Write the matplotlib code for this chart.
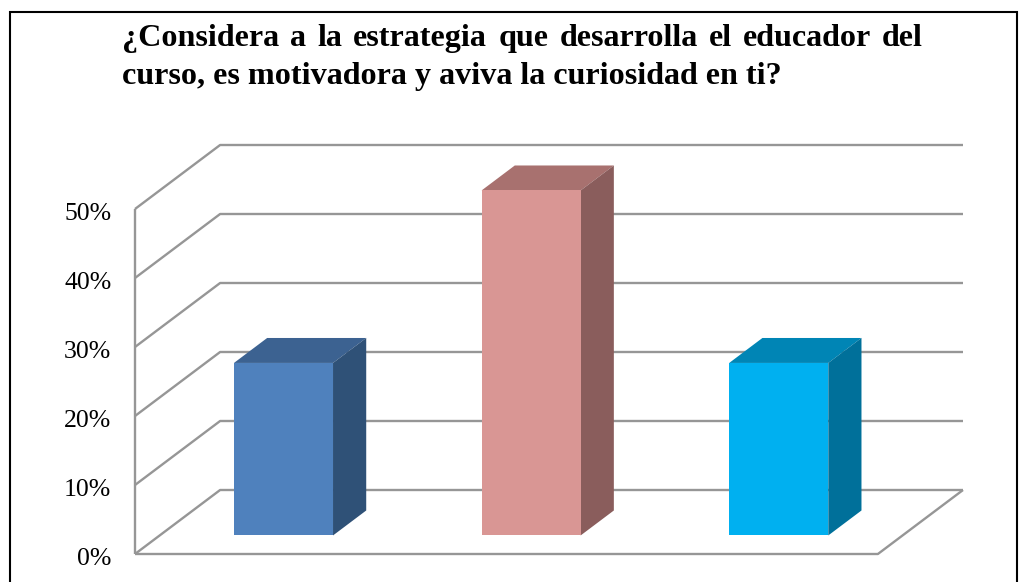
import matplotlib
matplotlib.use('Agg')
from matplotlib import pyplot as plt
from matplotlib.patches import Polygon, Rectangle
from matplotlib.transforms import ScaledTranslation

title_lines = ['¿Considera a la estrategia que desarrolla el educador del',
               'curso, es motivadora y aviva la curiosidad en ti?']
categories = ['A', 'B', 'C']
values = [25, 50, 25]
ticks = [0, 10, 20, 30, 40, 50]
tick_labels = ['0%', '10%', '20%', '30%', '40%', '50%']
front_colors = ['#4F81BD', '#D99694', '#00B0F0']
top_colors = ['#3C6291', '#A8716F', '#0085B5']
side_colors = ['#2F5177', '#8A5D5C', '#00709A']

W, H = 1019, 582
GRID = '#969696'
# depth of the 3d box, in data units
DX = 85 / 247.3
DY = 64 / 6.9
BAR_W = 0.4
D0, D1 = 0.29, 0.68

plt.rcParams['font.family'] = 'Liberation Serif'
fig = plt.figure(figsize=(W / 100, H / 100), dpi=100)
fig.add_artist(Rectangle((9.5 / W, -0.1), (1017 - 9.5) / W, (H - 12) / H + 0.1, transform=fig.transFigure,
                         fill=False, ec='black', lw=1.5))

ax = fig.add_axes([135 / W, (H - 554) / H, (963 - 135) / W, (554 - 145) / H])
ax.set_xlim(-0.5, 2.5 + DX)
ax.set_ylim(0, 409 / 6.9)
ax.patch.set_alpha(0)
for s in ax.spines.values():
    s.set_visible(False)
ax.set_xticks([])
ax.set_yticks(ticks)
ax.set_yticklabels(tick_labels, fontsize=18.5)
ax.tick_params(axis='y', length=0, pad=17)
# labels sit a little under their lines
for lab in ax.get_yticklabels():
    lab.set_transform(lab.get_transform() + ScaledTranslation(0, -2 / 72, fig.dpi_scale_trans))

def proj(x, y, d):
    return x + d * DX, y + d * DY

# walls and floor
left, right = -0.5, 2.5
line = dict(color=GRID, lw=1.7, solid_capstyle='butt', clip_on=False, zorder=1)
for t in ticks:
    p0 = proj(left, t, 0)
    p1 = proj(left, t, 1)
    p2 = proj(right, t, 1)
    ax.plot([p0[0], p1[0], p2[0]], [p0[1], p1[1], p2[1]], **line)
ax.plot([left, left], [0, ticks[-1]], **line)
p3 = proj(right, 0, 1)
ax.plot([left, right, p3[0]], [0, 0, p3[1]], **line)

# bars
for i, v in enumerate(values):
    x0, x1 = i - BAR_W / 2, i + BAR_W / 2
    a = proj(x0, 0, D0)
    b = proj(x1, 0, D0)
    c = proj(x1, v, D0)
    d = proj(x0, v, D0)
    e = proj(x0, v, D1)
    f = proj(x1, v, D1)
    g = proj(x1, 0, D1)
    ax.add_patch(Polygon([d, e, f, c], fc=top_colors[i], ec='none', zorder=3, clip_on=False))
    ax.add_patch(Polygon([b, c, f, g], fc=side_colors[i], ec='none', zorder=3, clip_on=False))
    ax.add_patch(Polygon([a, b, c, d], fc=front_colors[i], ec='none', zorder=4, clip_on=False))

# title, first line justified
fig.canvas.draw()
rend = fig.canvas.get_renderer()
tkw = dict(fontsize=23.1, fontweight='bold', va='baseline', ha='left', transform=None)
words = title_lines[0].split(' ')
arts = [fig.text(0, 0, w, **tkw) for w in words]
widths = [a.get_window_extent(rend).width for a in arts]
gap = (923 - 122 - sum(widths)) / (len(words) - 1)
x = 122
for a, w in zip(arts, widths):
    a.set_position((x, H - 46))
    x += w + gap
fig.text(122, H - 84, title_lines[1], **tkw)

fig.savefig('out.png', dpi=100)
